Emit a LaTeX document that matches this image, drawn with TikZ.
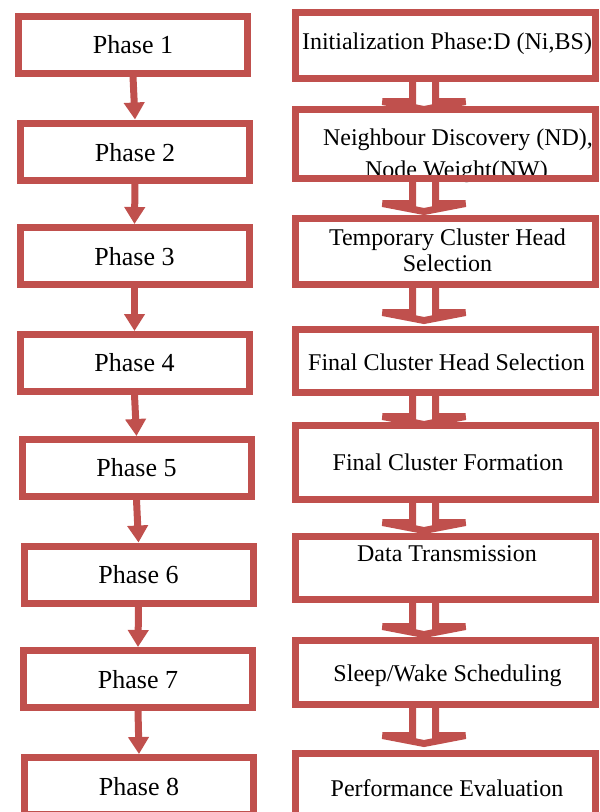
\documentclass[tikz,border=0pt]{standalone}
\usepackage{fontspec}
\setmainfont{Liberation Serif}
\usetikzlibrary{arrows.meta,calc}
\definecolor{boxred}{HTML}{C0504D}
\pgfdeclarelayer{bg}
\pgfsetlayers{bg,main}
\tikzset{
 lbox/.style={draw=boxred, line width=7pt, fill=white, minimum width=229pt, minimum height=57pt, inner sep=0pt},
 rbox/.style={draw=boxred, line width=7pt, fill=white, minimum width=300pt, inner sep=0pt},
 ltxt/.style={font=\fontsize{26}{30}\selectfont, anchor=base, inner sep=0pt},
 rtxt/.style={font=\fontsize{24}{28}\selectfont, anchor=base, inner sep=0pt},
 flow/.style={draw=boxred, line width=7pt, -{Triangle[width=20pt,length=17pt]}},
 blockarr/.style={draw=boxred, fill=white, line width=7pt},
}
\newcommand\blockarrow[3]{%
 \path[blockarr] let \p1=(#1.south), \p2=(#2.north) in
  ({\x1-33pt},{\y1+5pt}) -- ({\x1-33pt},{\y2-(#3)*1pt+11.5pt})
  -- ({\x1-63pt},{\y2-(#3)*1pt+11.5pt}) -- ({\x1-21.5pt},{\y2-(#3)*1pt+3.5pt})
  -- ({\x1+20pt},{\y2-(#3)*1pt+11.5pt}) -- ({\x1-10pt},{\y2-(#3)*1pt+11.5pt})
  -- ({\x1-10pt},{\y1+5pt}) -- cycle;}
\begin{document}
\begin{tikzpicture}[x=1pt,y=-1pt]
\useasboundingbox (0,0) rectangle (600,812);
% left column
\node[lbox] (p1) at (133,44.5) {};
\node[lbox] (p2) at (135,151.5) {};
\node[lbox] (p3) at (134.5,256) {};
\node[lbox] (p4) at (134.5,363) {};
\node[lbox] (p5) at (136.5,468) {};
\node[lbox] (p6) at (138.5,574.5) {};
\node[lbox] (p7) at (138,679) {};
\node[lbox] (p8) at (139,786) {};
\node[ltxt] (tp1) at (133,53.3) {Phase 1};
\node[ltxt] (tp2) at (135,161) {Phase 2};
\node[ltxt] (tp3) at (134.5,265) {Phase 3};
\node[ltxt] (tp4) at (134.5,371.7) {Phase 4};
\node[ltxt] (tp5) at (136.5,476.7) {Phase 5};
\node[ltxt] (tp6) at (138.5,583.3) {Phase 6};
\node[ltxt] (tp7) at (138,688.3) {Phase 7};
\node[ltxt] (tp8) at (139,795) {Phase 8};
\draw[flow] (p1.south) -- (p2.north);
\draw[flow] (p2.south) -- (p3.north);
\draw[flow] (p3.south) -- (p4.north);
\draw[flow] (p4.south) -- (p5.north);
\draw[flow] (p5.south) -- (p6.north);
\draw[flow] (p6.south) -- (p7.north);
\draw[flow] (p7.south) -- (p8.north);
% right column
\node[rbox, minimum height=66pt] (r1) at (445.5,45.5) {};
\node[rbox, minimum height=69pt] (r2) at (445.5,144) {};
\node[rbox, minimum height=66pt] (r3) at (445.5,251.5) {};
\node[rbox, minimum height=63pt] (r4) at (445.5,361) {};
\node[rbox, minimum height=74pt] (r5) at (445.5,462.5) {};
\node[rbox, minimum height=63pt] (r6) at (445.5,568) {};
\node[rbox, minimum height=64pt] (r7) at (445.5,672.5) {};
\node[rbox, minimum height=73pt] (r8) at (445.5,790) {};
\node[rtxt] (tr1) at (447,49) {Initialization Phase:D (Ni,BS)};
\node[rtxt] (tr2a) at (458,145) {Neighbour Discovery (ND),};
\node[rtxt] (tr2b) at (456.5,177) {Node Weight(NW)};
\node[rbox, fill=none, minimum height=69pt] (r2edge) at (r2.center) {};
\node[rtxt] (tr3a) at (447.5,245) {Temporary Cluster Head};
\node[rtxt] (tr3b) at (447.5,271.7) {Selection};
\node[rtxt] (tr4) at (446.5,370.7) {Final Cluster Head Selection};
\node[rtxt] (tr5) at (448,470.7) {Final Cluster Formation};
\node[rtxt] (tr6) at (447,561.7) {Data Transmission};
\node[rtxt] (tr7) at (447.5,681.7) {Sleep/Wake Scheduling};
\node[rtxt] (tr8) at (447,796.7) {Performance Evaluation};
\begin{pgfonlayer}{bg}
\blockarrow{r1}{r2}{7}
\blockarrow{r2}{r3}{0}
\blockarrow{r3}{r4}{-2}
\blockarrow{r4}{r5}{6}
\blockarrow{r5}{r6}{1}
\blockarrow{r6}{r7}{1}
\blockarrow{r7}{r8}{-3}
\end{pgfonlayer}
\end{tikzpicture}
\end{document}
